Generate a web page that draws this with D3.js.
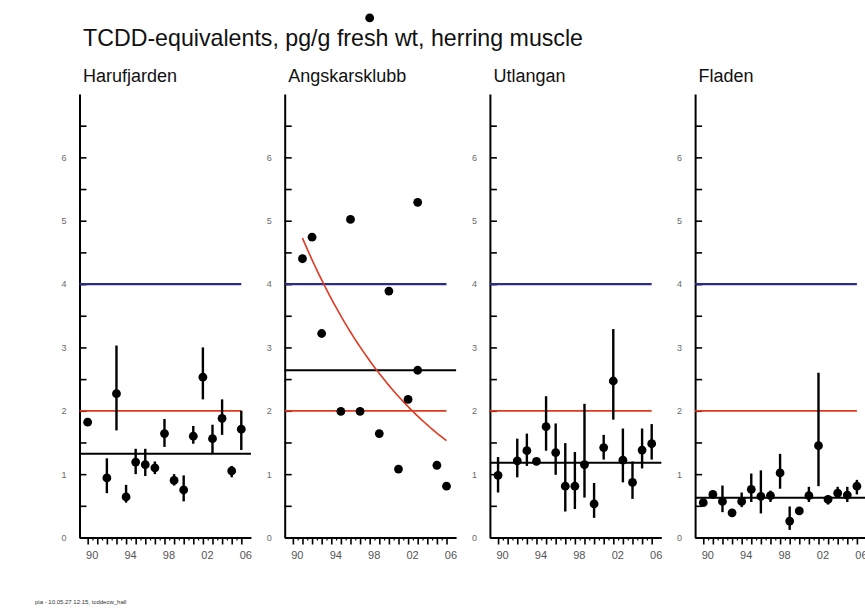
<!DOCTYPE html>
<html>
<head>
<meta charset="utf-8">
<script src="https://cdn.jsdelivr.net/npm/d3@7"></script>
<style>
  html, body { margin: 0; padding: 0; background: #ffffff; }
  svg { display: block; font-family: "Liberation Sans", Arial, sans-serif; }
</style>
</head>
<body>
<svg id="chart" width="865" height="608"></svg>
<script>
// TCDD-equivalents in herring muscle, four sampling sites, 1990-2006

const title = "TCDD-equivalents, pg/g fresh wt, herring muscle";
const footer = "pia - 10.05.27 12:15, tcddecw_hall";

const siteNames = ["Harufjarden", "Angskarsklubb", "Utlangan", "Fladen"];

// Harufjarden: annual values with interval bounds
const harufYears  = [1990, 1992, 1993, 1994, 1995, 1996, 1997, 1998, 1999, 2000, 2001, 2002, 2003, 2004, 2005, 2006];
const harufValues = [1.82, 0.94, 2.27, 0.64, 1.19, 1.15, 1.10, 1.64, 0.90, 0.75, 1.60, 2.53, 1.56, 1.88, 1.05, 1.71];
const harufLow    = [null, 0.70, 1.69, 0.55, 1.00, 0.97, 1.00, 1.43, 0.82, 0.57, 1.48, 2.18, 1.33, 1.62, 0.95, 1.38];
const harufHigh   = [null, 1.25, 3.03, 0.83, 1.40, 1.40, 1.20, 1.87, 1.00, 0.98, 1.76, 3.00, 1.78, 2.18, 1.13, 2.00];

// Angskarsklubb: single values, no intervals
const angskYears  = [1991, 1992, 1993, 1995, 1996, 1997, 1998, 1999, 2000, 2001, 2002, 2003, 2003, 2005, 2006];
const angskValues = [4.40, 4.74, 3.22, 1.99, 5.02, 1.99, 8.20, 1.64, 3.89, 1.08, 2.18, 5.29, 2.64, 1.14, 0.81];

// Utlangan
const utlanYears  = [1990, 1992, 1993, 1994, 1995, 1996, 1997, 1998, 1999, 2000, 2001, 2002, 2003, 2004, 2005, 2006];
const utlanValues = [0.98, 1.21, 1.37, 1.20, 1.75, 1.34, 0.81, 0.81, 1.15, 0.53, 1.42, 2.47, 1.22, 0.87, 1.38, 1.48];
const utlanLow    = [0.71, 0.95, 1.13, 1.15, 1.37, 0.99, 0.41, 0.45, 0.63, 0.31, 1.23, 1.86, 0.87, 0.61, 1.09, 1.23];
const utlanHigh   = [1.27, 1.56, 1.64, 1.25, 2.23, 1.80, 1.49, 1.35, 2.11, 0.86, 1.62, 3.29, 1.72, 1.20, 1.72, 1.79];

// Fladen
const fladYears  = [1990, 1991, 1992, 1993, 1994, 1995, 1996, 1997, 1998, 1999, 2000, 2001, 2002, 2003, 2004, 2005, 2006];
const fladValues = [0.55, 0.68, 0.57, 0.39, 0.57, 0.76, 0.65, 0.66, 1.02, 0.26, 0.42, 0.66, 1.45, 0.60, 0.70, 0.67, 0.81];
const fladLow    = [0.50, 0.62, 0.40, 0.36, 0.48, 0.56, 0.38, 0.56, 0.77, 0.12, null, 0.56, 0.81, 0.52, 0.64, 0.56, 0.68];
const fladHigh   = [0.60, 0.74, 0.82, 0.42, 0.71, 1.01, 1.06, 0.74, 1.32, 0.49, null, 0.80, 2.60, 0.66, 0.80, 0.80, 0.91];

// Reference levels
const upperLevel = 4;   // blue
const lowerLevel = 2;   // red

// Axis ticks
const yTickValues = d3.range(0, 7, 0.5);
const xTickYears = d3.range(1990, 2007);
const xLabelYears = [1990, 1994, 1998, 2002, 2006];

// Which site gets a fitted log-linear trend
const trendSite = "Angskarsklubb";

function makeSeries(years, values, low, high) {
  return years.map((yr, i) => ({
    year: yr,
    value: values[i],
    low: low ? low[i] : null,
    high: high ? high[i] : null
  }));
}

const panels = [
  { name: siteNames[0], data: makeSeries(harufYears, harufValues, harufLow, harufHigh) },
  { name: siteNames[1], data: makeSeries(angskYears, angskValues) },
  { name: siteNames[2], data: makeSeries(utlanYears, utlanValues, utlanLow, utlanHigh) },
  { name: siteNames[3], data: makeSeries(fladYears, fladValues, fladLow, fladHigh) }
];

// ---- layout ----
const svg = d3.select("#chart");
const panelLeft0 = 79.5;
const panelStep = 205.2;
const panelWidth = 171.4;
const yBottom = 537.5;
const yTop = 94;
const blue = "#2b2b8c";
const red = "#e2381f";

const y = d3.scaleLinear().domain([0, 7]).range([yBottom, yTop]);

svg.append("text")
  .attr("x", 83).attr("y", 46)
  .attr("font-size", 23.2)
  .attr("fill", "#111")
  .text(title);

svg.append("text")
  .attr("x", 35).attr("y", 604)
  .attr("font-size", 6)
  .attr("fill", "#333")
  .text(footer);

function geoMean(arr) {
  return Math.exp(d3.mean(arr, d => Math.log(d.value)));
}

function logLinearFit(arr) {
  const mx = d3.mean(arr, d => d.year);
  const my = d3.mean(arr, d => Math.log(d.value));
  const sxy = d3.sum(arr, d => (d.year - mx) * (Math.log(d.value) - my));
  const sxx = d3.sum(arr, d => (d.year - mx) ** 2);
  const b = sxy / sxx;
  const a = my - b * mx;
  return yr => Math.exp(a + b * yr);
}

panels.forEach((p, i) => {
  const left = panelLeft0 + i * panelStep;
  const x = d3.scaleLinear().domain([1989.15, 2007]).range([left, left + panelWidth]);
  const g = svg.append("g");

  // site name
  g.append("text")
    .attr("x", left + 3.5).attr("y", 82)
    .attr("font-size", 18)
    .attr("fill", "#111")
    .text(p.name);

  // y axis: ticks pointing into the plot, labels on whole numbers
  const yAxis = d3.axisLeft(y)
    .tickValues(yTickValues)
    .tickSizeInner(-7)
    .tickSizeOuter(0)
    .tickPadding(13)
    .tickFormat(d => Number.isInteger(d) ? d : "");
  const ya = g.append("g").attr("transform", `translate(${left},0)`).call(yAxis);
  ya.select(".domain").attr("stroke", "#000").attr("stroke-width", 2);
  ya.selectAll(".tick line").attr("stroke", "#000").attr("stroke-width", 1.6);
  ya.selectAll(".tick text")
    .attr("font-size", 9).attr("fill", "#6a6a6a")
    .attr("font-family", "Liberation Sans, Arial, sans-serif");

  // x axis: yearly ticks, labels every fourth year
  const xAxis = d3.axisBottom(x)
    .tickValues(xTickYears)
    .tickSizeInner(7)
    .tickSizeOuter(0)
    .tickPadding(7)
    .tickFormat(d => xLabelYears.includes(d) ? String(d % 100).padStart(2, "0") : "");
  const xa = g.append("g").attr("transform", `translate(0,${yBottom})`).call(xAxis);
  xa.select(".domain").attr("stroke", "#000").attr("stroke-width", 2);
  xa.selectAll(".tick line").attr("stroke", "#000").attr("stroke-width", 1.6);
  xa.selectAll(".tick text")
    .attr("font-size", 11).attr("fill", "#555").attr("dx", 4)
    .attr("font-family", "Liberation Sans, Arial, sans-serif");

  // half-year minor ticks
  const xMinor = d3.axisBottom(x)
    .tickValues(xTickYears.slice(0, -1).map(d => d + 0.5))
    .tickSizeInner(3).tickSizeOuter(0).tickFormat("");
  const xm = g.append("g").attr("transform", `translate(0,${yBottom})`).call(xMinor);
  xm.select(".domain").remove();
  xm.selectAll(".tick line").attr("stroke", "#000").attr("stroke-width", 1.2);

  // reference levels
  [[upperLevel, blue, 2.2], [lowerLevel, red, 1.8]].forEach(([lv, col, w]) => {
    g.append("line")
      .attr("x1", left).attr("x2", x(2006))
      .attr("y1", y(lv)).attr("y2", y(lv))
      .attr("stroke", col).attr("stroke-width", w);
  });

  // geometric mean
  const gm = geoMean(p.data);
  g.append("line")
    .attr("x1", left).attr("x2", x(2007))
    .attr("y1", y(gm)).attr("y2", y(gm))
    .attr("stroke", "#000").attr("stroke-width", 2);

  // fitted trend
  if (p.name === trendSite) {
    const f = logLinearFit(p.data);
    const [y0, y1] = d3.extent(p.data, d => d.year);
    const pts = d3.range(0, 61).map(k => y0 + (y1 - y0) * k / 60);
    g.append("path")
      .attr("d", d3.line().x(t => x(t)).y(t => y(f(t)))(pts))
      .attr("fill", "none")
      .attr("stroke", red)
      .attr("stroke-width", 1.6);
  }

  // intervals
  g.selectAll("line.err")
    .data(p.data.filter(d => d.low != null && d.high != null))
    .join("line")
    .attr("class", "err")
    .attr("x1", d => x(d.year)).attr("x2", d => x(d.year))
    .attr("y1", d => y(d.low)).attr("y2", d => y(d.high))
    .attr("stroke", "#000").attr("stroke-width", 2.4);

  // points
  g.selectAll("circle.pt")
    .data(p.data)
    .join("circle")
    .attr("class", "pt")
    .attr("cx", d => x(d.year))
    .attr("cy", d => y(d.value))
    .attr("r", 4.4)
    .attr("fill", "#000");
});
</script>
</body>
</html>
